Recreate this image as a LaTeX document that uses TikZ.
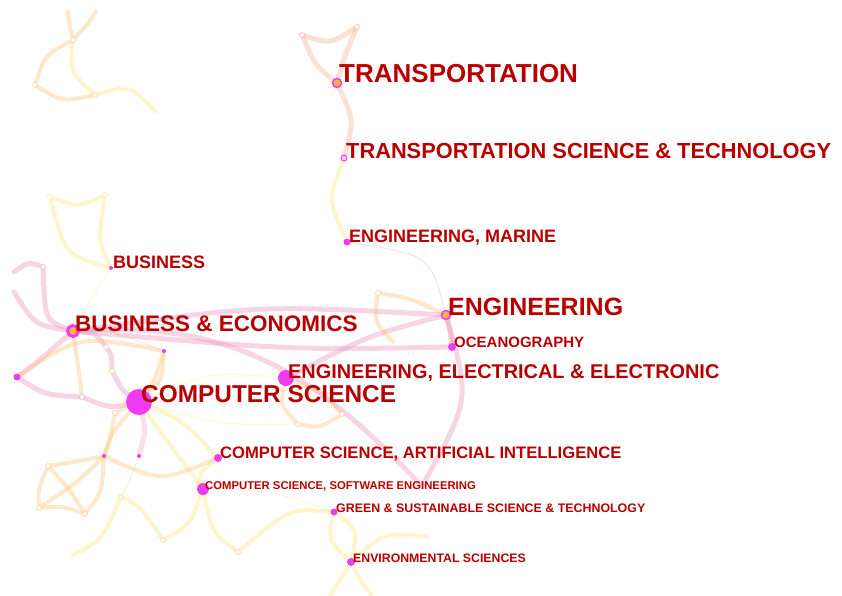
\documentclass[tikz,border=0pt]{standalone}
\usepackage{fontspec}
\setmainfont{Liberation Sans}
\usepackage{tikz}
\usetikzlibrary{calc}
\definecolor{labelred}{RGB}{185,0,0}
\definecolor{dotmag}{RGB}{240,60,240}
\definecolor{coreorange}{RGB}{250,180,60}
\definecolor{linkpink}{RGB}{236,150,190}
\definecolor{linkorange}{RGB}{250,195,120}
\definecolor{linkyellow}{RGB}{250,230,130}
\pgfdeclarelayer{edges}
\pgfsetlayers{edges,main}
\newcommand{\labelsize}[1]{\fontsize{#1}{#1}\selectfont\bfseries}
\tikzset{
    catlabel/.style={anchor=base west, inner sep=0pt, xshift=2pt, text=labelred},
    catdot/.style={circle, fill=dotmag, inner sep=0pt, minimum size=#1},
    catdot/.default=5pt,
    hubdot/.style={circle, draw=dotmag, line width=1.5pt, fill=coreorange, inner sep=0pt, minimum size=#1},
    hubdot/.default=8pt,
    ringdot/.style={circle, draw=#1, draw opacity=0.6, line width=0.8pt, fill=white, inner sep=0pt, minimum size=5pt},
    ringdot/.default=linkorange,
    pinklink/.style={draw=linkpink, line width=5pt, opacity=0.4, line cap=round},
    orangelink/.style={draw=linkorange, line width=4pt, opacity=0.38, line cap=round},
    yellowlink/.style={draw=linkyellow, line width=4pt, opacity=0.42, line cap=round},
    thinlink/.style={draw=#1, line width=1pt, opacity=0.3},
    thinlink/.default=linkorange
}

\begin{document}
\begin{tikzpicture}[x=1pt, y=-1pt]
    \useasboundingbox (0,0) rectangle (842,596);

    % categories
    \node[hubdot=9pt] (tr) at (337,83) {};
    \node[circle, draw=dotmag, line width=1pt, fill=linkpink!40, inner sep=0pt, minimum size=6pt] (trs) at (344,158) {};
    \node[catdot=7pt] (em) at (347,242) {};
    \node[catdot=4pt] (bus) at (111,268) {};
    \node[hubdot=11pt, line width=3pt] (be) at (73,331) {};
    \node[hubdot=9pt] (eng) at (446,315) {};
    \node[catdot=8pt] (oce) at (452,347) {};
    \node[catdot=16pt] (eee) at (286,378) {};
    \node[catdot=26pt] (cs) at (139,402) {};
    \node[catdot=8pt] (csai) at (218,458) {};
    \node[catdot=12pt] (csse) at (203,489) {};
    \node[catdot=7pt] (gr) at (334,512) {};
    \node[catdot=8pt] (env) at (351,562) {};
    \node[catdot=4pt] (m1) at (164,351) {};
    \node[catdot=4pt] (m2) at (104,456) {};
    \node[catdot=4pt] (m3) at (139,456) {};
    \node[catdot=7pt] (m4) at (17,377) {};

    % small members
    \node[ringdot] (y1) at (73,40) {};
    \node[ringdot] (y2) at (35,85) {};
    \node[ringdot] (y3) at (95,95) {};
    \node[ringdot=linkyellow] (y4) at (50,197) {};
    \node[ringdot=linkyellow] (y5) at (105,195) {};
    \node[ringdot=linkpink] (p1) at (43,267) {};
    \node[ringdot] (o1) at (106,347) {};
    \node[ringdot] (o2) at (112,371) {};
    \node[ringdot=linkpink] (o3) at (82,397) {};
    \node[ringdot] (o4) at (115,413) {};
    \node[ringdot] (o5) at (298,424) {};
    \node[ringdot] (o6) at (342,414) {};
    \node[ringdot] (o7) at (378,293) {};
    \node[ringdot] (q1) at (48,466) {};
    \node[ringdot] (q2) at (39,508) {};
    \node[ringdot] (q3) at (85,514) {};
    \node[ringdot] (q4) at (121,497) {};
    \node[ringdot] (q5) at (163,540) {};
    \node[ringdot] (q6) at (238,552) {};
    \node[ringdot=linkpink] (t1) at (302,35) {};
    \node[ringdot=linkpink] (t2) at (357,27) {};
    \node[ringdot=linkpink] (pk1) at (422,486) {};
    \coordinate (tl1) at (68,12);
    \coordinate (tl2) at (96,12);
    \coordinate (tl3) at (155,111);
    \coordinate (lp1) at (14,272);
    \coordinate (lp2) at (14,292);
    \coordinate (ll1) at (73,555);
    \coordinate (o8) at (393,342);
    \coordinate (b1) at (330,596);
    \coordinate (b2) at (372,596);
    \coordinate (er1) at (427,537);

    % labels
    \node[catlabel, font=\labelsize{26}] (trlabel) at (tr.center) {TRANSPORTATION};
    \node[catlabel, font=\labelsize{21.8}] (trslabel) at (trs.center) {TRANSPORTATION SCIENCE \& TECHNOLOGY};
    \node[catlabel, font=\labelsize{18}] (emlabel) at (em.center) {ENGINEERING, MARINE};
    \node[catlabel, font=\labelsize{18}] (buslabel) at (bus.center) {BUSINESS};
    \node[catlabel, font=\labelsize{22.5}] (belabel) at (be.center) {BUSINESS \& ECONOMICS};
    \node[catlabel, font=\labelsize{25}] (englabel) at (eng.center) {ENGINEERING};
    \node[catlabel, font=\labelsize{15}] (ocelabel) at (oce.center) {OCEANOGRAPHY};
    \node[catlabel, font=\labelsize{19.9}] (eeelabel) at (eee.center) {ENGINEERING, ELECTRICAL \& ELECTRONIC};
    \node[catlabel, font=\labelsize{24.4}] (cslabel) at (cs.center) {COMPUTER SCIENCE};
    \node[catlabel, font=\labelsize{16.6}] (csailabel) at (csai.center) {COMPUTER SCIENCE, ARTIFICIAL INTELLIGENCE};
    \node[catlabel, font=\labelsize{11.3}] (csselabel) at (csse.center) {COMPUTER SCIENCE, SOFTWARE ENGINEERING};
    \node[catlabel, font=\labelsize{12.4}] (grlabel) at (gr.center) {GREEN \& SUSTAINABLE SCIENCE \& TECHNOLOGY};
    \node[catlabel, font=\labelsize{12.3}] (envlabel) at (env.center) {ENVIRONMENTAL SCIENCES};

    \begin{pgfonlayer}{edges}
        % top left
        \draw[orangelink] (tl1) .. controls (70,28) .. (y1);
        \draw[yellowlink] (y1) .. controls (70,72) .. (y3);
        \draw[orangelink] (tl2) .. controls (86,26) .. (y1);
        \draw[orangelink] (y1) .. controls (45,55) .. (y2);
        \draw[orangelink] (y2) .. controls (62,102) .. (y3);
        \draw[yellowlink] (y3) .. controls (130,85) .. (tl3);
        \draw[yellowlink] (y4) .. controls (78,207) .. (y5);
        \draw[yellowlink] (y4) .. controls (65,255) .. (bus);
        \draw[yellowlink] (y5) .. controls (98,240) .. (bus);
        \draw[thinlink=linkyellow] (bus) .. controls (90,300) .. (be);

        % transportation
        \draw[pinklink, draw=linkorange!60!linkpink] (t1) .. controls (330,44) .. (t2);
        \draw[pinklink, draw=linkorange!60!linkpink] (t1) .. controls (315,65) .. (tr);
        \draw[pinklink, draw=linkorange!60!linkpink] (t2) .. controls (345,55) .. (tr);
        \draw[pinklink, draw=linkorange!60!linkpink] (tr) .. controls (354,120) .. (trs);
        \draw[yellowlink] (trs) .. controls (328,200) .. (em);
        \draw[thinlink=linkpink] (em) .. controls (430,255) .. (eng);

        % business and economics
        \draw[pinklink] (lp1) .. controls (28,262) .. (p1);
        \draw[pinklink] (p1) .. controls (45,320) .. (be);
        \draw[pinklink] (lp2) .. controls (35,325) .. (be);
        \draw[pinklink] (be) .. controls (40,360) .. (m4);
        \draw[pinklink] (m4) .. controls (45,395) .. (o3);
        \draw[pinklink] (o3) .. controls (110,408) .. (cs);
        \draw[pinklink] (be) .. controls (95,333) .. (o1);
        \draw[pinklink] (o1) .. controls (112,356) .. (o2);
        \draw[pinklink] (o2) .. controls (122,390) .. (cs);
        \draw[orangelink] (be) .. controls (78,365) .. (o3);
        \draw[orangelink] (m4) .. controls (80,335) .. (m1);
        \draw[thinlink] (be) .. controls (110,330) .. (m1);
        \draw[orangelink] (m1) .. controls (162,380) .. (cs);
        \draw[orangelink] (m1) .. controls (150,395) .. (o4);
        \draw[orangelink] (o4) .. controls (110,440) .. (m2);
        \draw[pinklink, opacity=0.3] (cs) .. controls (146,430) .. (m3);

        % engineering
        \draw[pinklink] (be) .. controls (260,305) .. (eng);
        \draw[pinklink] (be) .. controls (290,350) .. (oce);
        \draw[pinklink] (eee) .. controls (370,335) .. (eng);
        \draw[pinklink] (eng) .. controls (450,330) .. (oce);
        \draw[pinklink] (be) .. controls (240,320) and (320,380) .. (pk1);
        \draw[pinklink] (eng) .. controls (470,400) .. (pk1);
        \draw[orangelink] (o7) .. controls (410,298) .. (eng);
        \draw[orangelink] (o7) .. controls (374,322) .. (o8);
        \draw[orangelink] (eee) .. controls (280,405) .. (o5);
        \draw[orangelink] (o5) .. controls (320,428) .. (o6);
        \draw[orangelink] (o6) .. controls (322,392) .. (eee);
        \draw[thinlink=linkyellow] (cs) .. controls (210,372) .. (eee);
        \draw[thinlink=linkyellow] (cs) .. controls (220,425) .. (o5);

        % computer science
        \draw[yellowlink] (cs) .. controls (182,420) .. (csai);
        \draw[yellowlink] (cs) .. controls (170,445) .. (csse);
        \draw[yellowlink] (csai) .. controls (198,474) .. (csse);
        \draw[orangelink] (m2) .. controls (160,482) .. (csai);
        \draw[orangelink] (cs) .. controls (112,432) .. (m2);
        \draw[thinlink] (m3) .. controls (130,480) .. (q4);
        \draw[orangelink] (m2) .. controls (75,462) .. (q1);
        \draw[orangelink] (m2) .. controls (102,492) .. (q3);
        \draw[orangelink] (q1) .. controls (38,490) .. (q2);
        \draw[orangelink] (q2) .. controls (62,506) .. (q3);
        \draw[orangelink] (q1) .. controls (70,490) .. (q3);
        \draw[orangelink] (q2) .. controls (78,482) .. (m2);
        \draw[yellowlink] (q4) .. controls (140,506) .. (q5);
        \draw[yellowlink] (q5) .. controls (190,525) .. (csse);
        \draw[yellowlink] (q4) .. controls (102,540) .. (ll1);
        \draw[yellowlink] (csse) .. controls (212,532) .. (q6);
        \draw[yellowlink] (q6) .. controls (290,508) .. (gr);
        \draw[thinlink=linkyellow] (csse) .. controls (270,490) .. (gr);

        % environment
        \draw[yellowlink] (gr) .. controls (328,540) .. (env);
        \draw[yellowlink] (gr) .. controls (358,530) .. (env);
        \draw[yellowlink] (env) .. controls (340,580) .. (b1);
        \draw[yellowlink] (env) .. controls (360,580) .. (b2);
        \draw[yellowlink] (env) .. controls (385,532) .. (er1);
    \end{pgfonlayer}
\end{tikzpicture}
\end{document}
